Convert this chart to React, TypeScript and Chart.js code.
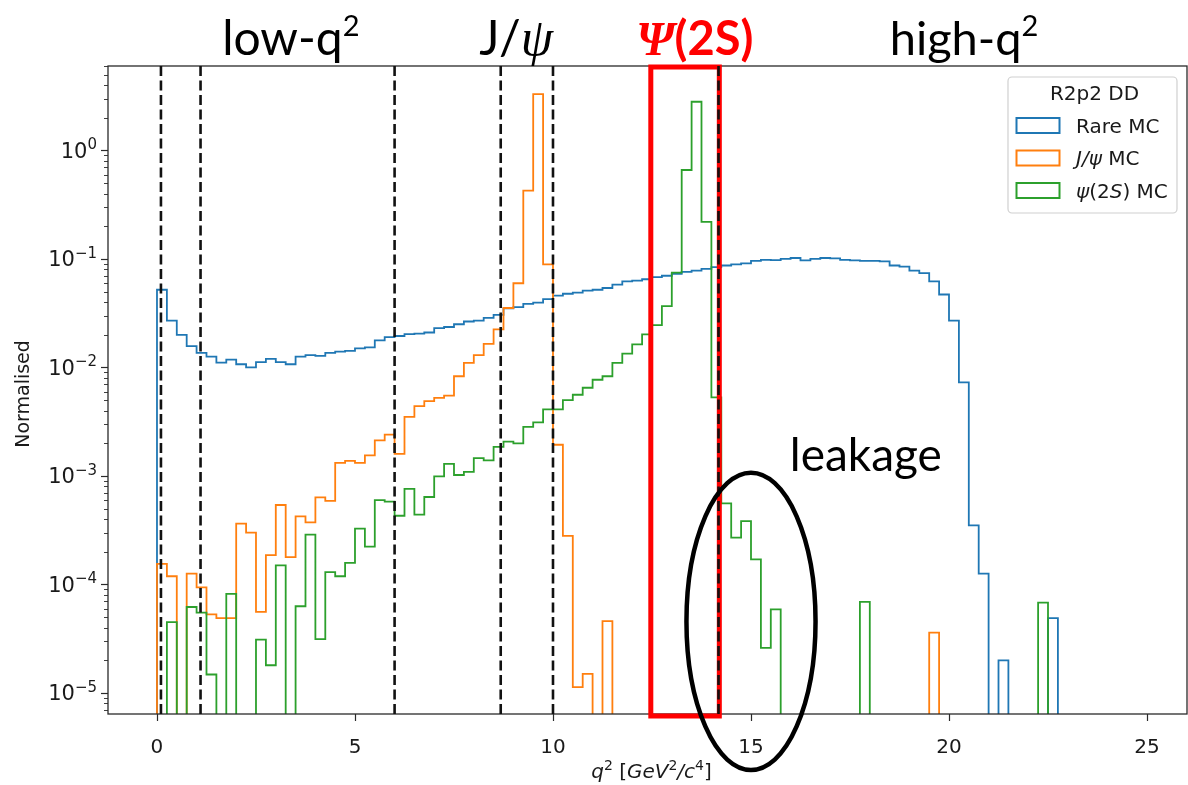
import React, { useEffect, useRef } from 'react';
import { Chart, registerables } from 'chart.js';

Chart.register(...registerables);

// ---------------- data ----------------
// histogram bins of width 0.25 GeV^2/c^4 starting at q2 = 0
const BIN_WIDTH = 0.25;

const rareMC = [
  0.052, 0.027, 0.020, 0.0157, 0.0136, 0.0126, 0.0111, 0.0118, 0.0107, 0.0100,
  0.0112, 0.0120, 0.0112, 0.0107, 0.0126, 0.0130, 0.0128, 0.0136, 0.0140, 0.0142,
  0.0150, 0.0153, 0.0178, 0.0190, 0.0195, 0.0203, 0.0205, 0.0210, 0.0230, 0.0236,
  0.0250, 0.0265, 0.0270, 0.0286, 0.0305, 0.0350, 0.0360, 0.0385, 0.0395, 0.0426,
  0.0460, 0.0478, 0.0490, 0.0510, 0.0520, 0.0540, 0.0580, 0.0620, 0.0630, 0.0650,
  0.0680, 0.0700, 0.0730, 0.0760, 0.0780, 0.0810, 0.0840, 0.0870, 0.0890, 0.0910,
  0.0960, 0.0980, 0.0975, 0.1000, 0.1020, 0.0970, 0.1000, 0.1020, 0.1010, 0.0980,
  0.0970, 0.0960, 0.0960, 0.0950, 0.0870, 0.0850, 0.0780, 0.0740, 0.0620, 0.0470,
  0.0270, 0.0073, 0.00035, 0.000126, 0, 0.00002, 0, 0, 0, 0,
  0.000049, 0,
];

const jpsiMC = [
  1.55e-4, 1.19e-4, 0, 1.26e-4, 9.4e-5, 5.3e-5, 4.9e-5, 4.9e-5, 3.63e-4, 3.0e-4,
  5.6e-5, 1.86e-4, 5.4e-4, 1.79e-4, 4.25e-4, 3.73e-4, 6.36e-4, 5.9e-4, 1.32e-3, 1.38e-3,
  1.32e-3, 1.55e-3, 2.13e-3, 2.4e-3, 1.6e-3, 3.5e-3, 4.4e-3, 4.9e-3, 5.25e-3, 5.5e-3,
  8.3e-3, 0.011, 0.013, 0.0165, 0.0224, 0.0353, 0.0597, 0.427, 3.3, 0.089,
  1.94e-3, 2.8e-4, 1.13e-5, 1.5e-5, 0, 4.6e-5, 0, 0, 0, 0,
  0, 0, 0, 0, 0, 0, 0, 0, 0, 0,
  0, 0, 0, 0, 0, 0, 0, 0, 0, 0,
  0, 0, 0, 0, 0, 0, 0, 0, 3.6e-5, 0,
  0, 0, 0, 0, 0, 0, 0, 0, 0, 0,
  0, 0,
];

const psi2sMC = [
  0, 4.5e-5, 0, 6.2e-5, 5.5e-5, 1.48e-5, 0, 8.2e-5, 0, 0,
  3.1e-5, 1.8e-5, 1.5e-4, 0, 6.3e-5, 2.88e-4, 3.14e-5, 1.3e-4, 1.19e-4, 1.58e-4,
  3.27e-4, 2.23e-4, 6.0e-4, 5.8e-4, 4.3e-4, 7.6e-4, 4.4e-4, 6.4e-4, 9.9e-4, 1.29e-3,
  1.02e-3, 1.09e-3, 1.46e-3, 1.39e-3, 1.85e-3, 2.07e-3, 2.0e-3, 2.83e-3, 3.12e-3, 4.1e-3,
  4.1e-3, 5.0e-3, 5.6e-3, 6.5e-3, 7.7e-3, 8.3e-3, 0.011, 0.0134, 0.0163, 0.0202,
  0.0245, 0.0367, 0.0747, 0.66, 2.81, 0.22, 5.3e-3, 5.6e-4, 2.7e-4, 3.84e-4,
  1.7e-4, 2.6e-5, 5.9e-5, 0, 0, 0, 0, 0, 0, 0,
  0, 6.9e-5, 0, 0, 0, 0, 0, 0, 0, 0,
  0, 0, 0, 0, 0, 0, 0, 0, 0, 6.8e-5,
  0, 0,
];

const xTickValues = [0, 5, 10, 15, 20, 25];
const yDecades = [-5, -4, -3, -2, -1, 0];
const q2Boundaries = [0.1, 1.1, 6.0, 8.68, 10.0, 14.18];
const psi2sWindow = [12.47, 14.2];

const legendTitle = 'R2p2 DD';
const seriesColors = ['#1f77b4', '#ff7f0e', '#2ca02c'];

// ---------------- styling ----------------
const SANS = '"DejaVu Sans", Verdana, sans-serif';
const TITLE = 'Lato, "Noto Sans", sans-serif';
const SERIF = '"Liberation Serif", "DejaVu Serif", serif';
const TXT = '#1a1a1a';

type Run = { t: string; font: string; dy?: number; color?: string };

const legendRuns: Run[][] = [
  [{ t: 'Rare MC', font: `20px ${SANS}` }],
  [{ t: 'J/ψ', font: `italic 20px ${SANS}` }, { t: ' MC', font: `20px ${SANS}` }],
  [
    { t: 'ψ', font: `italic 20px ${SANS}` },
    { t: '(2', font: `20px ${SANS}` },
    { t: 'S', font: `italic 20px ${SANS}` },
    { t: ') MC', font: `20px ${SANS}` },
  ],
];

const regionLabels: { q2: number; runs: Run[]; color?: string }[] = [
  { q2: 3.38, runs: [{ t: 'low-q', font: `48px ${TITLE}` }, { t: '2', font: `29px ${TITLE}`, dy: 19 }] },
  { q2: 9.07, runs: [{ t: 'J/', font: `48px ${TITLE}` }, { t: 'ψ', font: `italic 52px ${SERIF}` }] },
  {
    q2: 13.58,
    color: '#ff0000',
    runs: [{ t: 'Ψ', font: `italic bold 48px ${SERIF}` }, { t: '(2S)', font: `bold 47px ${TITLE}` }],
  },
  { q2: 20.38, runs: [{ t: 'high-q', font: `47px ${TITLE}` }, { t: '2', font: `29px ${TITLE}`, dy: 19 }] },
];

const xTitleRuns: Run[] = [
  { t: 'q', font: `italic 20px ${SANS}` },
  { t: '2', font: `14px ${SANS}`, dy: 8.5 },
  { t: ' [', font: `20px ${SANS}` },
  { t: 'GeV', font: `italic 20px ${SANS}` },
  { t: '2', font: `14px ${SANS}`, dy: 8.5 },
  { t: '/', font: `italic 20px ${SANS}` },
  { t: 'c', font: `italic 20px ${SANS}` },
  { t: '4', font: `14px ${SANS}`, dy: 8.5 },
  { t: ']', font: `20px ${SANS}` },
];

function stepPoints(values: number[]) {
  const FLOOR = 1e-9; // empty bins fall below the axis and are clipped
  const pts = [{ x: 0, y: FLOOR }];
  values.forEach((v, i) => pts.push({ x: i * BIN_WIDTH, y: v > 0 ? v : FLOOR }));
  pts.push({ x: values.length * BIN_WIDTH, y: FLOOR });
  return pts;
}

function runsWidth(ctx: CanvasRenderingContext2D, runs: Run[]) {
  let w = 0;
  for (const r of runs) {
    ctx.font = r.font;
    w += ctx.measureText(r.t).width;
  }
  return w;
}

function drawRuns(
  ctx: CanvasRenderingContext2D,
  runs: Run[],
  x: number,
  y: number,
  align: 'left' | 'center' | 'right',
  color: string
) {
  const w = runsWidth(ctx, runs);
  let cx = align === 'left' ? x : align === 'center' ? x - w / 2 : x - w;
  ctx.textAlign = 'left';
  ctx.textBaseline = 'alphabetic';
  for (const r of runs) {
    ctx.font = r.font;
    ctx.fillStyle = r.color || color;
    ctx.fillText(r.t, cx, y - (r.dy || 0));
    cx += ctx.measureText(r.t).width;
  }
}

const supDigits: Record<string, string> = { '-': '\u2212' };

const overlayPlugin = {
  id: 'overlay',
  afterDraw(chart: any) {
    const { ctx, chartArea: a } = chart;
    const xs = chart.scales.x;
    const ys = chart.scales.y;
    ctx.save();

    // frame
    ctx.strokeStyle = '#2a2a2a';
    ctx.lineWidth = 1.3;
    ctx.setLineDash([]);
    ctx.strokeRect(a.left, a.top, a.right - a.left, a.bottom - a.top);

    // x ticks
    ctx.lineWidth = 1.2;
    for (const t of xTickValues) {
      const px = Math.round(xs.getPixelForValue(t)) + 0.5;
      ctx.beginPath();
      ctx.moveTo(px, a.bottom);
      ctx.lineTo(px, a.bottom + 7);
      ctx.stroke();
    }

    // y ticks (major + minor)
    const yMin = ys.min;
    const yMax = ys.max;
    for (let d = -7; d <= 1; d++) {
      for (let m = 1; m <= 9; m++) {
        const v = m * Math.pow(10, d);
        if (v < yMin || v > yMax) continue;
        const py = Math.round(ys.getPixelForValue(v)) + 0.5;
        ctx.lineWidth = m === 1 ? 1.2 : 0.9;
        ctx.beginPath();
        ctx.moveTo(a.left, py);
        ctx.lineTo(a.left - (m === 1 ? 7 : 4), py);
        ctx.stroke();
      }
    }

    // y tick labels 10^n
    for (const d of yDecades) {
      const py = ys.getPixelForValue(Math.pow(10, d));
      const exp = String(d).split('').map((c) => supDigits[c] || c).join('');
      drawRuns(
        ctx,
        [
          { t: '10', font: `21px ${SANS}` },
          { t: exp, font: `15px ${SANS}`, dy: 8.5 },
        ],
        a.left - 11,
        py + 7.5,
        'right',
        TXT
      );
    }

    // axis titles
    drawRuns(ctx, xTitleRuns, (a.left + a.right) / 2 + 4, 778, 'center', TXT);
    ctx.save();
    ctx.translate(29, (a.top + a.bottom) / 2 + 4);
    ctx.rotate(-Math.PI / 2);
    ctx.font = `19px ${SANS}`;
    ctx.fillStyle = TXT;
    ctx.textAlign = 'center';
    ctx.textBaseline = 'alphabetic';
    ctx.fillText('Normalised', 0, 0);
    ctx.restore();

    // psi(2S) window box
    const bx0 = xs.getPixelForValue(psi2sWindow[0]);
    const bx1 = xs.getPixelForValue(psi2sWindow[1]);
    ctx.strokeStyle = '#ff0000';
    ctx.lineWidth = 5;
    ctx.strokeRect(bx0, a.top + 1, bx1 - bx0, a.bottom - a.top + 1);

    // q2 boundaries
    ctx.strokeStyle = '#111111';
    ctx.lineWidth = 2.6;
    ctx.setLineDash([10, 4.5]);
    for (const b of q2Boundaries) {
      const px = xs.getPixelForValue(b);
      ctx.beginPath();
      ctx.moveTo(px, a.top);
      ctx.lineTo(px, a.bottom);
      ctx.stroke();
    }
    ctx.setLineDash([]);

    // leakage ellipse
    const ex0 = xs.getPixelForValue(15.0 - 1.63);
    const ex1 = xs.getPixelForValue(15.0 + 1.63);
    const ey0 = ys.getPixelForValue(1.07e-3);
    const ey1 = ys.getPixelForValue(1.95e-6);
    ctx.strokeStyle = '#000000';
    ctx.lineWidth = 4.5;
    ctx.beginPath();
    ctx.ellipse((ex0 + ex1) / 2, (ey0 + ey1) / 2, (ex1 - ex0) / 2, (ey1 - ey0) / 2, 0, 0, Math.PI * 2);
    ctx.stroke();

    // leakage text
    drawRuns(
      ctx,
      [{ t: 'leakage', font: `46px ${TITLE}` }],
      xs.getPixelForValue(15.98),
      ys.getPixelForValue(1.1e-3),
      'left',
      '#000'
    );

    // region labels above the plot
    for (const r of regionLabels) {
      drawRuns(ctx, r.runs, xs.getPixelForValue(r.q2), a.top - 11, 'center', r.color || '#000');
    }

    // legend
    const lw = 169;
    const lh = 136;
    const lx = a.right - 10 - lw;
    const ly = a.top + 11;
    ctx.beginPath();
    (ctx as any).roundRect(lx, ly, lw, lh, 4);
    ctx.fillStyle = 'rgba(255,255,255,0.85)';
    ctx.fill();
    ctx.strokeStyle = '#d0d0d0';
    ctx.lineWidth = 1.2;
    ctx.stroke();
    ctx.font = `20px ${SANS}`;
    ctx.fillStyle = TXT;
    ctx.textAlign = 'center';
    ctx.textBaseline = 'middle';
    ctx.fillText(legendTitle, lx + lw / 2 + 2, ly + 18);
    chart.data.datasets.forEach((ds: any, i: number) => {
      const cy = ly + 48 + i * 32.5;
      ctx.strokeStyle = ds.borderColor;
      ctx.lineWidth = 2;
      ctx.strokeRect(lx + 8.5, cy - 7, 43, 15);
      drawRuns(ctx, legendRuns[i], lx + 68, cy + 7.5, 'left', TXT);
    });

    ctx.restore();
  },
};

export default function App() {
  const ref = useRef<HTMLCanvasElement>(null);

  useEffect(() => {
    document.body.style.margin = '0';
    const common = {
      fill: false,
      pointRadius: 0,
      borderWidth: 1.8,
      stepped: 'before' as const,
      tension: 0,
    };
    const chart = new Chart(ref.current as HTMLCanvasElement, {
      type: 'line',
      data: {
        datasets: [
          { label: 'Rare MC', data: stepPoints(rareMC), borderColor: seriesColors[0], order: 3, ...common },
          { label: 'J/ψ MC', data: stepPoints(jpsiMC), borderColor: seriesColors[1], order: 2, ...common },
          { label: 'ψ(2S) MC', data: stepPoints(psi2sMC), borderColor: seriesColors[2], order: 1, ...common },
        ],
      },
      options: {
        animation: false,
        responsive: false,
        devicePixelRatio: 1,
        layout: { padding: { top: 66, right: 1, left: 0, bottom: 0 } },
        plugins: { legend: { display: false }, tooltip: { enabled: false } },
        scales: {
          x: {
            type: 'linear',
            min: -1.237,
            max: 26.01,
            grid: { display: false },
            border: { display: false },
            ticks: {
              stepSize: 5,
              includeBounds: false,
              autoSkip: false,
              maxRotation: 0,
              padding: 14,
              color: TXT,
              font: { family: '"DejaVu Sans"', size: 20 },
            },
            afterFit: (s: any) => {
              s.height = 71;
            },
          },
          y: {
            type: 'logarithmic',
            min: 6.4e-6,
            max: 6.0,
            grid: { display: false },
            border: { display: false },
            ticks: { display: false },
            afterFit: (s: any) => {
              s.width = 108;
            },
          },
        },
      } as any,
      plugins: [overlayPlugin],
    });
    return () => chart.destroy();
  }, []);

  return (
    <div style={{ width: 1188, height: 785, background: '#ffffff' }}>
      <canvas ref={ref} width={1188} height={785} />
    </div>
  );
}
